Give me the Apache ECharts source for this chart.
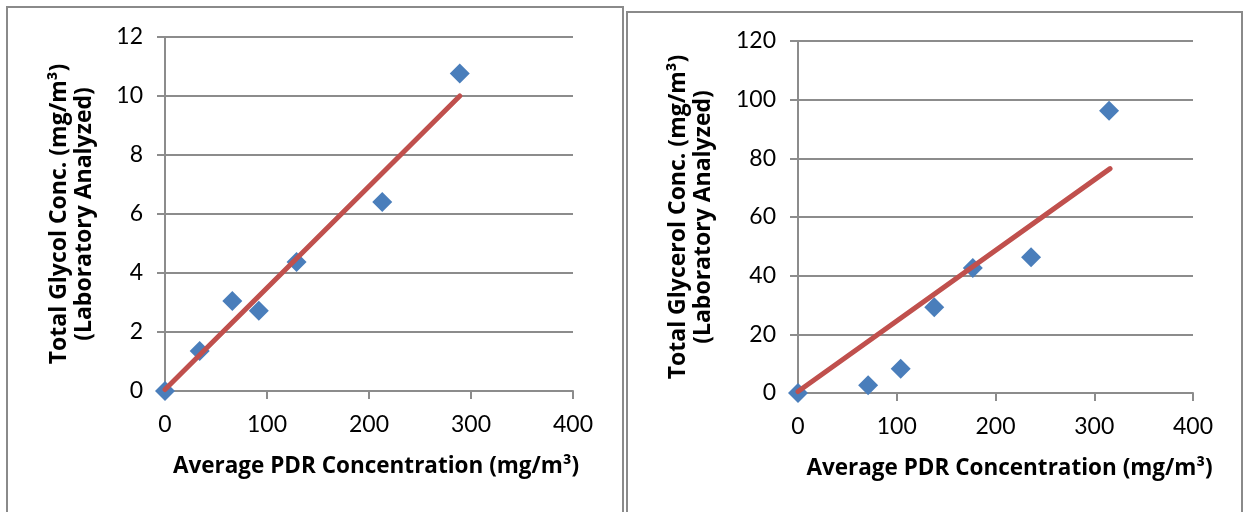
<!DOCTYPE html>
<html>
<head>
<meta charset="utf-8">
<script src="https://cdn.jsdelivr.net/npm/echarts@6/dist/echarts.min.js"></script>
<style>
    html, body { margin: 0; padding: 0; background: #fff; }
    #chart { width: 1244px; height: 512px; }
</style>
</head>
<body>
<div id="chart"></div>
<script>
// left panel: glycol
const glycolX = [0, 34, 66, 92, 129, 213, 289];
const glycolY = [0, 1.36, 3.05, 2.72, 4.37, 6.41, 10.76];
const glycolTrendX = [0, 289];
const glycolTrendY = [0.05, 10.0];

// right panel: glycerol
const glycerolX = [0, 71, 104, 138, 177, 236, 315];
const glycerolY = [0, 2.6, 8.3, 29.2, 42.6, 46.3, 96.2];
const glycerolTrendX = [0, 316];
const glycerolTrendY = [0.5, 76.5];

const xTicks = [0, 100, 200, 300, 400];
const glycolTicks = [0, 2, 4, 6, 8, 10, 12];
const glycerolTicks = [0, 20, 40, 60, 80, 100, 120];

const xTitle = 'Average PDR Concentration (mg/m\u00b3)';
const glycolTitle = 'Total Glycol Conc. (mg/m\u00b3)\n(Laboratory Analyzed)';
const glycerolTitle = 'Total Glycerol Conc. (mg/m\u00b3)\n(Laboratory Analyzed)';

const TICK_FONT = 'Lato';
const TITLE_FONT = 'Open Sans';
const GRID_COLOR = '#8c8c8c';
const MARK_COLOR = '#4A7EBB';
const TREND_COLOR = '#C0504D';

const pairs = (xs, ys) => xs.map((x, i) => [x, ys[i]]);

function xAxisOpt(gridIndex, shift) {
    return {
        gridIndex: gridIndex,
        type: 'value',
        min: xTicks[0],
        max: xTicks[xTicks.length - 1],
        interval: 100,
        name: xTitle,
        nameLocation: 'middle',
        nameGap: 64,
        nameTextStyle: {
            fontFamily: TITLE_FONT,
            fontWeight: 'bold',
            fontSize: 22.5,
            color: '#000',
            padding: [0, 0, 0, shift]
        },
        axisLine: { show: true, lineStyle: { color: GRID_COLOR, width: 2 } },
        axisTick: { show: true, length: 8, inside: false, lineStyle: { color: GRID_COLOR, width: 2 } },
        axisLabel: { fontFamily: TICK_FONT, fontSize: 23, color: '#000', margin: 22 },
        splitLine: { show: false }
    };
}

function yAxisOpt(gridIndex, ticks, title, gap) {
    return {
        gridIndex: gridIndex,
        type: 'value',
        min: ticks[0],
        max: ticks[ticks.length - 1],
        interval: ticks[1] - ticks[0],
        name: title,
        nameLocation: 'middle',
        nameGap: gap,
        nameRotate: 90,
        nameTextStyle: {
            fontFamily: TITLE_FONT,
            fontWeight: 'bold',
            fontSize: 23,
            lineHeight: 25,
            color: '#000'
        },
        axisLine: { show: true, lineStyle: { color: GRID_COLOR, width: 2 } },
        axisTick: { show: true, length: 8, lineStyle: { color: GRID_COLOR, width: 2 } },
        axisLabel: { fontFamily: TICK_FONT, fontSize: 23, color: '#000', margin: 22 },
        splitLine: { show: true, lineStyle: { color: GRID_COLOR, width: 2 } }
    };
}

const chart = echarts.init(document.getElementById('chart'));
chart.setOption({
    backgroundColor: '#fff',
    animation: false,
    graphic: [
        {
            type: 'rect',
            shape: { x: 7, y: 7, width: 616, height: 520 },
            style: { fill: 'none', stroke: '#8a8a8a', lineWidth: 2 }
        },
        {
            type: 'rect',
            shape: { x: 627, y: 12, width: 615, height: 520 },
            style: { fill: 'none', stroke: '#8a8a8a', lineWidth: 2 }
        }
    ],
    grid: [
        { left: 165, top: 37, width: 408, height: 354 },
        { left: 798, top: 41, width: 395, height: 352 }
    ],
    xAxis: [xAxisOpt(0, 14), xAxisOpt(1, 28)],
    yAxis: [
        yAxisOpt(0, glycolTicks, glycolTitle, 68),
        yAxisOpt(1, glycerolTicks, glycerolTitle, 82)
    ],
    series: [
        {
            type: 'scatter',
            xAxisIndex: 0,
            yAxisIndex: 0,
            symbol: 'diamond',
            symbolSize: [20, 20],
            clip: false,
            itemStyle: { color: MARK_COLOR, opacity: 1 },
            data: pairs(glycolX, glycolY)
        },
        {
            type: 'line',
            xAxisIndex: 0,
            yAxisIndex: 0,
            showSymbol: false,
            lineStyle: { color: TREND_COLOR, width: 5, cap: 'round' },
            data: pairs(glycolTrendX, glycolTrendY)
        },
        {
            type: 'scatter',
            xAxisIndex: 1,
            yAxisIndex: 1,
            symbol: 'diamond',
            symbolSize: [20, 20],
            clip: false,
            itemStyle: { color: MARK_COLOR, opacity: 1 },
            data: pairs(glycerolX, glycerolY)
        },
        {
            type: 'line',
            xAxisIndex: 1,
            yAxisIndex: 1,
            showSymbol: false,
            lineStyle: { color: TREND_COLOR, width: 5, cap: 'round' },
            data: pairs(glycerolTrendX, glycerolTrendY)
        }
    ]
});
</script>
</body>
</html>
